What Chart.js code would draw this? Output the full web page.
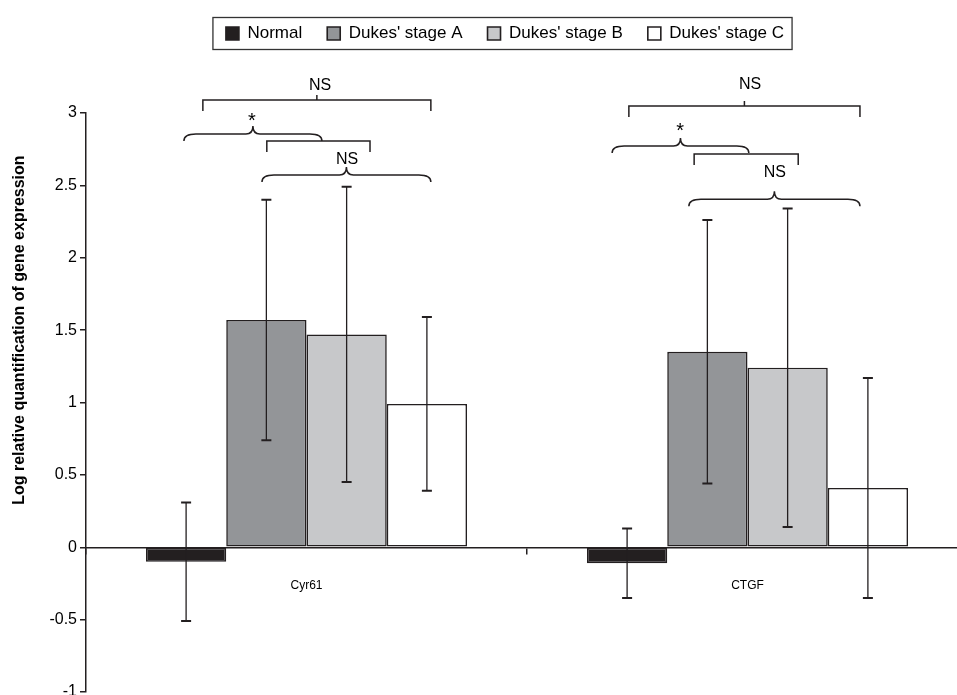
<!DOCTYPE html>
<html>
<head>
<meta charset="utf-8">
<script src="https://cdn.jsdelivr.net/npm/chart.js@4.4.0/dist/chart.umd.min.js"></script>
<style>
    html, body { margin: 0; padding: 0; background: #fff; overflow: hidden; }
    #wrap { width: 957px; height: 695px; overflow: hidden; }
</style>
</head>
<body>
<div id="wrap"><canvas id="chart" width="990" height="720"></canvas></div>
<script>
//====================================== data ======================================
const genes = ['Cyr61', 'CTGF'];
const stageNames = ['Normal', "Dukes' stage A", "Dukes' stage B", "Dukes' stage C"];

const normalMean = [-0.10, -0.11];
const stageAMean = [1.57, 1.35];
const stageBMean = [1.47, 1.24];
const stageCMean = [0.99, 0.41];

const normalErr = [0.41, 0.24];
const stageAErr = [0.83, 0.91];
const stageBErr = [1.02, 1.10];
const stageCErr = [0.60, 0.76];

const yTicks = [-1, -0.5, 0, 0.5, 1, 1.5, 2, 2.5, 3];
const yTitle = 'Log relative quantification of gene expression';

// significance marks (x in category units, y in data units)
const bracketX1 = [-0.235, -0.090, 0.731, 0.879];
const bracketX2 = [0.282, 0.144, 1.255, 1.115];
const bracketY = [3.09, 2.806, 3.048, 2.717];
const bracketHasTick = [true, false, true, false];

const braceX1 = [-0.278, -0.101, 0.693, 0.867];
const braceX2 = [0.035, 0.282, 1.003, 1.255];
const braceY = [2.855, 2.571, 2.772, 2.405];

const sigText = ['NS', '*', 'NS', 'NS', '*', 'NS'];
const sigX = [0.031, -0.124, 0.092, 1.006, 0.847, 1.062];
const sigY = [3.187, 2.965, 2.675, 3.193, 2.896, 2.585];

//====================================== plugins ======================================
Chart.defaults.font.family = "'Liberation Sans', Arial, sans-serif";
Chart.defaults.color = '#000';

const legendSpace = {
    id: 'legendSpace',
    beforeInit(chart) {
        const origFit = chart.legend.fit;
        chart.legend.fit = function () {
            origFit.bind(chart.legend)();
            this.height = 113;
        };
    }
};

const errorBars = {
    id: 'errorBars',
    afterDatasetsDraw(chart) {
        const ctx = chart.ctx;
        const y = chart.scales.y;
        ctx.save();
        ctx.strokeStyle = '#231f20';
        chart.data.datasets.forEach((ds, i) => {
            const meta = chart.getDatasetMeta(i);
            meta.data.forEach((bar, j) => {
                const top = y.getPixelForValue(ds.data[j] + ds.errors[j]);
                const bot = y.getPixelForValue(ds.data[j] - ds.errors[j]);
                ctx.lineWidth = 1.3;
                ctx.beginPath();
                ctx.moveTo(bar.x, top);
                ctx.lineTo(bar.x, bot);
                ctx.stroke();
                ctx.lineWidth = 2;
                ctx.beginPath();
                ctx.moveTo(bar.x - 5, top); ctx.lineTo(bar.x + 5, top);
                ctx.moveTo(bar.x - 5, bot); ctx.lineTo(bar.x + 5, bot);
                ctx.stroke();
            });
        });
        ctx.restore();
    }
};

const extras = {
    id: 'extras',
    afterDraw(chart) {
        const ctx = chart.ctx;
        const x = chart.scales.x;
        const y = chart.scales.y;
        ctx.save();
        ctx.strokeStyle = '#231f20';
        ctx.fillStyle = '#000';
        ctx.lineWidth = 1.5;

        // square brackets
        for (let i = 0; i < bracketY.length; i++) {
            const x1 = x.getPixelForValue(bracketX1[i]);
            const x2 = x.getPixelForValue(bracketX2[i]);
            const py = y.getPixelForValue(bracketY[i]);
            ctx.beginPath();
            ctx.moveTo(x1, py + 11);
            ctx.lineTo(x1, py);
            ctx.lineTo(x2, py);
            ctx.lineTo(x2, py + 11);
            if (bracketHasTick[i]) {
                const xc = (x1 + x2) / 2;
                ctx.moveTo(xc, py);
                ctx.lineTo(xc, py - 5);
            }
            ctx.stroke();
        }

        // curly braces
        for (let i = 0; i < braceY.length; i++) {
            const x1 = x.getPixelForValue(braceX1[i]);
            const x2 = x.getPixelForValue(braceX2[i]);
            const py = y.getPixelForValue(braceY[i]);
            const xc = (x1 + x2) / 2;
            ctx.beginPath();
            ctx.moveTo(x1, py + 7);
            ctx.quadraticCurveTo(x1, py, x1 + 12, py);
            ctx.lineTo(xc - 7, py);
            ctx.quadraticCurveTo(xc, py, xc, py - 8);
            ctx.quadraticCurveTo(xc, py, xc + 7, py);
            ctx.lineTo(x2 - 12, py);
            ctx.quadraticCurveTo(x2, py, x2, py + 7);
            ctx.stroke();
        }

        // significance labels
        ctx.textAlign = 'center';
        ctx.textBaseline = 'middle';
        for (let i = 0; i < sigText.length; i++) {
            ctx.font = sigText[i] === '*' ? "20px 'Liberation Sans', Arial" : "16px 'Liberation Sans', Arial";
            ctx.fillText(sigText[i], x.getPixelForValue(sigX[i]), y.getPixelForValue(sigY[i]) + (sigText[i] === '*' ? 3 : 0));
        }

        // y axis title
        ctx.save();
        ctx.translate(20, y.getPixelForValue(1.5));
        ctx.rotate(-Math.PI / 2);
        ctx.font = "bold 16px 'Liberation Sans', Arial";
        ctx.fillText(yTitle, 0, 0);
        ctx.restore();

        // legend frame
        const boxes = chart.legend.legendHitBoxes;
        if (boxes && boxes.length) {
            const left = Math.min(...boxes.map(b => b.left)) - 13;
            const right = Math.max(...boxes.map(b => b.left + b.width)) + 8;
            const cy = boxes[0].top + boxes[0].height / 2;
            ctx.lineWidth = 1.3;
            ctx.strokeStyle = '#333';
            ctx.strokeRect(left, cy - 16, right - left, 32);
        }
        ctx.restore();
    }
};

//====================================== chart ======================================
function makeSet(label, data, errors, color) {
    return {
        label: label,
        data: data,
        errors: errors,
        backgroundColor: color,
        borderColor: '#231f20',
        borderWidth: 1.6,
        borderSkipped: false,
        categoryPercentage: 0.728,
        barPercentage: 1.0
    };
}

const ctx = document.getElementById('chart').getContext('2d');
const myChart = new Chart(ctx, {
    type: 'bar',
    data: {
        labels: genes,
        datasets: [
            makeSet(stageNames[0], normalMean, normalErr, '#231f20'),
            makeSet(stageNames[1], stageAMean, stageAErr, '#939598'),
            makeSet(stageNames[2], stageBMean, stageBErr, '#c7c8ca'),
            makeSet(stageNames[3], stageCMean, stageCErr, '#ffffff')
        ]
    },
    options: {
        responsive: false,
        animation: false,
        layout: { padding: { left: 42, right: 22, top: 0, bottom: 28 } },
        plugins: {
            legend: {
                position: 'top',
                labels: {
                    boxWidth: 13,
                    boxHeight: 13,
                    padding: 25,
                    font: { size: 17 }
                }
            },
            tooltip: { enabled: false }
        },
        scales: {
            x: {
                position: { y: 0 },
                offset: true,
                grid: { offset: true, drawOnChartArea: false, tickLength: 6, color: '#231f20', lineWidth: 1.5 },
                border: { color: '#231f20', width: 1.5 },
                ticks: { font: { size: 12 }, padding: 25 }
            },
            y: {
                min: -1,
                max: 3,
                afterBuildTicks: axis => { axis.ticks = yTicks.map(v => ({ value: v })); },
                afterFit: axis => { axis.width = 44; },
                grid: { drawOnChartArea: false, tickLength: 6, color: '#231f20', lineWidth: 1.5 },
                border: { color: '#231f20', width: 1.5 },
                ticks: { font: { size: 16 }, padding: 3, callback: value => String(value) }
            }
        }
    },
    plugins: [legendSpace, errorBars, extras]
});
</script>
</body>
</html>
